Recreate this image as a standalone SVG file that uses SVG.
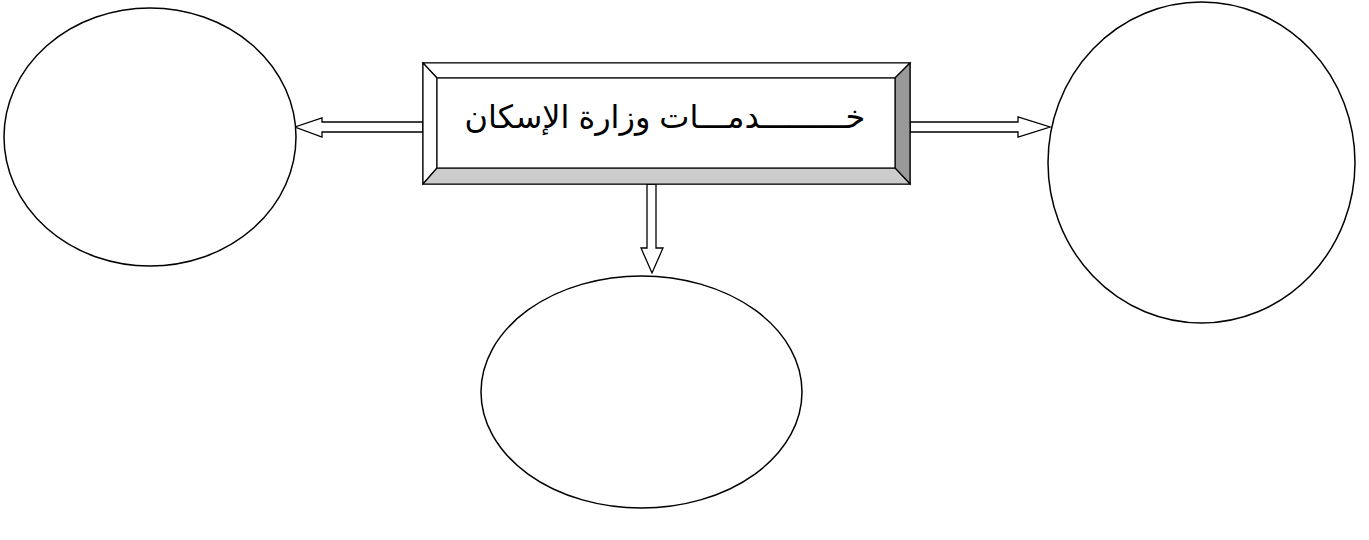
<svg xmlns="http://www.w3.org/2000/svg" width="1369" height="540" viewBox="0 0 1369 540">
<style>
.node{fill:#fff;stroke:#000;stroke-width:1.5}
.arrow{fill:#fff;stroke:#000;stroke-width:1.3;stroke-linejoin:miter}
.bev{stroke:#000;stroke-width:1.2}
.lbl{font-family:"Liberation Sans","DejaVu Sans",sans-serif;font-size:32px;fill:#000}
</style>
<rect width="1369" height="540" fill="#fff"/>
<g id="connectors">
<path class="arrow" d="M423,122 L322,122 L322,118 L295,127 L322,137 L322,132 L423,132 Z"/>
<path class="arrow" d="M910,122 L1018,122 L1018,117 L1050,127 L1018,137 L1018,132 L910,132 Z"/>
<path class="arrow" d="M647,184 L647,248 L641,248 L652,273 L663,248 L656,248 L656,184 Z"/>
</g>
<g id="node-main">
<rect x="423" y="63" width="487" height="121" fill="#fff" stroke="#000" stroke-width="1.2"/>
<polygon class="bev" fill="#ffffff" points="423,63 910,63 895,78 437,78"/>
<polygon class="bev" fill="#ffffff" points="423,63 437,78 437,168 423,184"/>
<polygon class="bev" fill="#999999" points="910,63 910,184 895,168 895,78"/>
<polygon class="bev" fill="#cccccc" points="423,184 437,168 895,168 910,184"/>
<rect x="437" y="78" width="458" height="90" fill="#fff" stroke="#000" stroke-width="1.2"/>
<text class="lbl" x="665" y="128" text-anchor="middle" direction="rtl">خـــــــــدمـــات وزارة الإسكان</text>
</g>
<g id="node-left"><ellipse class="node" cx="150" cy="137" rx="146" ry="129"/></g>
<g id="node-right"><ellipse class="node" cx="1201.5" cy="162.5" rx="153.5" ry="160.5"/></g>
<g id="node-bottom"><ellipse class="node" cx="641.5" cy="392" rx="160.5" ry="116"/></g>
</svg>
